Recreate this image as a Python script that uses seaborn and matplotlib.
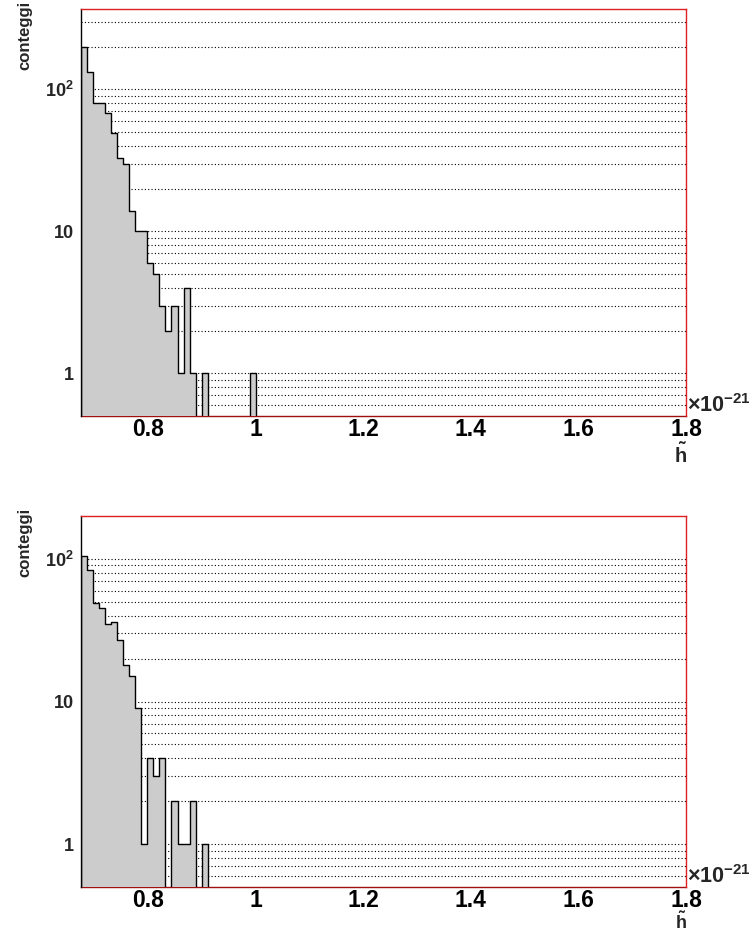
import numpy as np
import pandas as pd
import matplotlib
matplotlib.use("Agg")
import matplotlib.pyplot as plt
import seaborn as sns
from matplotlib.ticker import FixedLocator, NullFormatter

# h-tilde binning, in units of 1e-21
x_min, x_max, n_bins = 0.675, 1.80, 100

# counts per bin, starting at x_min (bins not listed are empty)
counts_top = [200, 132, 80, 80, 68, 49, 33, 30, 14, 10, 10, 6, 5, 3, 2, 3, 1, 4,
              1, 0, 1, 0, 0, 0, 0, 0, 0, 0, 1]
counts_bottom = [105, 84, 49, 45, 35, 36, 27, 18, 15, 9, 1, 4, 3, 4, 0, 2, 1, 1,
                 2, 0, 1]

x_ticks = [0.8, 1.0, 1.2, 1.4, 1.6, 1.8]
x_tick_labels = ["0.8", "1", "1.2", "1.4", "1.6", "1.8"]
y_ticks = [1, 10, 100]
y_tick_labels = ["1", "10", r"$\mathregular{10^{2}}$"]
y_limits_top = (0.5, 368)
y_limits_bottom = (0.5, 200)

sns.set_style("white")
plt.rcParams["font.family"] = ["Liberation Sans", "DejaVu Sans"]
plt.rcParams["font.weight"] = "bold"
plt.rcParams["mathtext.fontset"] = "custom"
plt.rcParams["mathtext.rm"] = "Liberation Sans:bold"
plt.rcParams["mathtext.it"] = "Liberation Sans:bold"
plt.rcParams["mathtext.bf"] = "Liberation Sans:bold"

W, H = 752, 934
fig = plt.figure(figsize=(W / 100, H / 100), dpi=100)


def rect(left, top, right, bottom):
    return [left / W, 1 - bottom / H, (right - left) / W, (bottom - top) / H]


edges = np.linspace(x_min, x_max, n_bins + 1)
centers = 0.5 * (edges[:-1] + edges[1:])
frame_red = "#e02020"


def draw_panel(ax, counts, ylim, label_pad):
    df = pd.DataFrame({"h": centers[:len(counts)], "n": counts})
    sns.histplot(data=df, x="h", weights="n", bins=[float(e) for e in edges],
                 element="step", fill=True, color="#cccccc", edgecolor="black",
                 linewidth=1.0, alpha=1.0, ax=ax, zorder=1)
    ax.set_yscale("log", nonpositive="clip")
    ax.set_xlim(x_min, x_max)
    ax.set_ylim(*ylim)
    ax.set_xlabel("")
    ax.set_ylabel("")

    lo, hi = ylim
    minor_vals = [m * 10.0 ** e for e in range(-1, 3) for m in range(1, 10)
                  if lo < m * 10.0 ** e < hi]
    # dotted horizontal grid under the histogram
    for g in minor_vals:
        ax.axhline(g, color="black", lw=0.8, ls=(0, (1, 2)), zorder=0.5)

    ax.set_xticks(x_ticks, x_tick_labels)
    ax.xaxis.set_minor_locator(FixedLocator(np.arange(0.70, 1.8001, 0.05)))
    ax.xaxis.set_minor_formatter(NullFormatter())
    ax.set_yticks(y_ticks, y_tick_labels)
    ax.yaxis.set_minor_locator(FixedLocator([v for v in minor_vals if v not in y_ticks]))
    ax.yaxis.set_minor_formatter(NullFormatter())

    ax.tick_params(axis="x", which="major", direction="in", length=8.6, width=0.8,
                   pad=label_pad, labelsize=16.5, colors="black")
    ax.tick_params(axis="x", which="minor", direction="in", length=4.0, width=0.8)
    ax.tick_params(axis="y", which="major", direction="in", length=13, width=0.8,
                   pad=5, labelsize=13)
    ax.tick_params(axis="y", which="minor", direction="in", length=6.5, width=0.8)
    for lab in ax.get_xticklabels() + ax.get_yticklabels():
        lab.set_fontweight("bold")

    for side in ("top", "right"):
        ax.spines[side].set_color(frame_red)
        ax.spines[side].set_linewidth(1.0)
    ax.spines["bottom"].set_color("#a01010")
    ax.spines["bottom"].set_linewidth(1.0)
    ax.spines["bottom"].set_zorder(0.8)
    ax.spines["left"].set_color("black")
    ax.spines["left"].set_linewidth(1.0)


# (axes rect, counts, y-limits, tick label pad, h-tilde bottom y in px, h-tilde size)
panels = [
    (rect(80.7, 9, 686, 416), counts_top, y_limits_top, 1.5, 467, 14.5),
    (rect(80.7, 516, 686, 887), counts_bottom, y_limits_bottom, 1.5, 933, 13),
]
for pos, counts, ylim, pad, title_bottom, title_size in panels:
    ax = fig.add_axes(pos)
    draw_panel(ax, counts, ylim, pad)
    l, b, w, h = pos
    # axis titles and exponent, ROOT-like placement
    fig.text(l + w + 1 / W, b - 1 / H, r"×10$\mathregular{^{-21}}$",
             fontsize=15.5, fontweight="bold", ha="left", va="bottom")
    fig.text(l + w + 1 / W, 1 - title_bottom / H, r"$\mathregular{\tilde{h}}$",
             fontsize=title_size, fontweight="bold", ha="right", va="bottom")
    fig.text(25 / W, b + h + 8 / H, "conteggi", rotation=90, fontsize=12,
             fontweight="bold", ha="center", va="top")

fig.savefig("out.png", dpi=100)
